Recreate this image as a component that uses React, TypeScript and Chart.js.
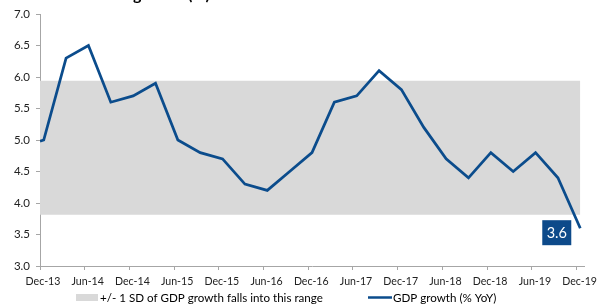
import React, { useEffect, useRef } from "react";
import { Chart, registerables } from "chart.js";

Chart.register(...registerables);

// Months elapsed since Dec-13 (data points sit mid-month of each quarter-end month)
const monthOffsets = [0, 0.5, 3.5, 6.5, 9.5, 12.5, 15.5, 18.5, 21.5, 24.5, 27.5, 30.5, 33.5, 36.5, 39.5, 42.5, 45.5, 48.5, 51.5, 54.5, 57.5, 60.5, 63.5, 66.5, 69.5, 72.5];
const gdpGrowth = [4.98, 5.0, 6.3, 6.5, 5.6, 5.7, 5.9, 5.0, 4.8, 4.7, 4.3, 4.2, 4.5, 4.8, 5.6, 5.7, 6.1, 5.8, 5.2, 4.7, 4.4, 4.8, 4.5, 4.8, 4.4, 3.6];

const tickMonths = [0, 6, 12, 18, 24, 30, 36, 42, 48, 54, 60, 66, 72];
const tickLabels = ["Dec-13", "Jun-14", "Dec-14", "Jun-15", "Dec-15", "Jun-16", "Dec-16", "Jun-17", "Dec-17", "Jun-18", "Dec-18", "Jun-19", "Dec-19"];

const bandUpper = 5.94;
const bandLower = 3.815;
const bandRange = [0, 72.5];

const titleText = "Real GDP growth (%)";
const legendBandText = "+/- 1 SD of GDP growth falls into this range";
const legendLineText = "GDP growth (% YoY)";
const lastValueLabel = "3.6";

const FONT = "Lato, 'Open Sans', sans-serif";
const BLUE = "#0B4C8C";
const GRAY_BAND = "#D9D9D9";
const AXIS = "#A6A6A6";

export default function App() {
  const ref = useRef<HTMLCanvasElement | null>(null);

  useEffect(() => {
    document.body.style.margin = "0";
    const canvas = ref.current;
    if (!canvas) return;

    const overlay = {
      id: "overlay",
      afterDraw(chart: any) {
        const ctx = chart.ctx;
        ctx.save();
        // partially visible title
        ctx.font = `bold 16px ${FONT}`;
        ctx.fillStyle = "#000";
        ctx.textBaseline = "alphabetic";
        ctx.textAlign = "left";
        const pre = ctx.measureText("Real GDP ").width;
        ctx.fillText(titleText, 133 - pre, 0);

        // last value label
        const meta = chart.getDatasetMeta(2);
        const pt = meta.data[meta.data.length - 1];
        const bx = pt.x - 38;
        const by = pt.y - 8;
        ctx.fillStyle = "#0D4A8A";
        ctx.fillRect(bx, by, 29, 25);
        ctx.fillStyle = "#fff";
        ctx.font = `14.5px ${FONT}`;
        ctx.textAlign = "center";
        ctx.textBaseline = "middle";
        ctx.fillText(lastValueLabel, bx + 14.5, by + 13);

        // legend
        const ly = 297.5;
        ctx.fillStyle = GRAY_BAND;
        ctx.fillRect(76, ly - 3.5, 22, 7);
        ctx.fillStyle = "#000";
        ctx.font = `11.6px ${FONT}`;
        ctx.textAlign = "left";
        ctx.textBaseline = "middle";
        ctx.fillText(legendBandText, 100, ly + 1);
        ctx.strokeStyle = BLUE;
        ctx.lineWidth = 2.5;
        ctx.beginPath();
        ctx.moveTo(368, ly);
        ctx.lineTo(392, ly);
        ctx.stroke();
        ctx.fillText(legendLineText, 393, ly + 1);
        ctx.restore();
      },
    };

    const chart = new Chart(canvas, {
      type: "line",
      data: {
        datasets: [
          {
            label: "upper",
            data: bandRange.map((x) => ({ x, y: bandUpper })),
            borderWidth: 0,
            pointRadius: 0,
            fill: false,
            backgroundColor: GRAY_BAND,
            borderColor: "rgba(0,0,0,0)",
            order: 2,
          },
          {
            label: "band",
            data: bandRange.map((x) => ({ x, y: bandLower })),
            borderWidth: 0,
            pointRadius: 0,
            fill: "-1",
            backgroundColor: GRAY_BAND,
            borderColor: "rgba(0,0,0,0)",
            order: 1,
          },
          {
            label: legendLineText,
            data: monthOffsets.map((x, i) => ({ x, y: gdpGrowth[i] })),
            borderColor: BLUE,
            borderWidth: 2.75,
            pointRadius: 0,
            fill: false,
            tension: 0,
            borderJoinStyle: "miter",
            order: 0,
          },
        ],
      },
      options: {
        animation: false,
        responsive: false,
        layout: { padding: { left: 0, top: 14, right: 13, bottom: 18 } },
        plugins: {
          legend: { display: false },
          title: { display: false },
          tooltip: { enabled: false },
        },
        scales: {
          x: {
            type: "linear",
            min: 0,
            max: 73,
            afterBuildTicks(scale: any) {
              scale.ticks = tickMonths.map((v) => ({ value: v }));
            },
            afterFit(scale: any) {
              scale.height = 20;
              scale.paddingLeft = 0;
              scale.paddingRight = 0;
            },
            ticks: {
              autoSkip: false,
              maxRotation: 0,
              labelOffset: 3,
              padding: 5,
              color: "#222",
              font: { family: FONT, size: 10.6 },
              callback: (_v: any, i: number) => tickLabels[i],
            },
            grid: { drawOnChartArea: false, drawTicks: true, tickLength: 4, color: AXIS },
            border: { display: true, color: AXIS },
          },
          y: {
            min: 3,
            max: 7,
            afterFit(scale: any) {
              scale.width = 40;
              scale.paddingTop = 0;
              scale.paddingBottom = 0;
            },
            ticks: {
              stepSize: 0.5,
              padding: 6,
              color: "#222",
              font: { family: FONT, size: 11.5 },
              callback: (v: any) => Number(v).toFixed(1),
            },
            grid: { drawOnChartArea: false, drawTicks: true, tickLength: 4, color: AXIS },
            border: { display: true, color: AXIS },
          },
        },
      },
      plugins: [overlay],
    } as any);

    return () => chart.destroy();
  }, []);

  return (
    <div style={{ width: 597, height: 304 }}>
      <canvas ref={ref} width={597} height={304} style={{ width: 597, height: 304, display: "block" }} />
    </div>
  );
}
